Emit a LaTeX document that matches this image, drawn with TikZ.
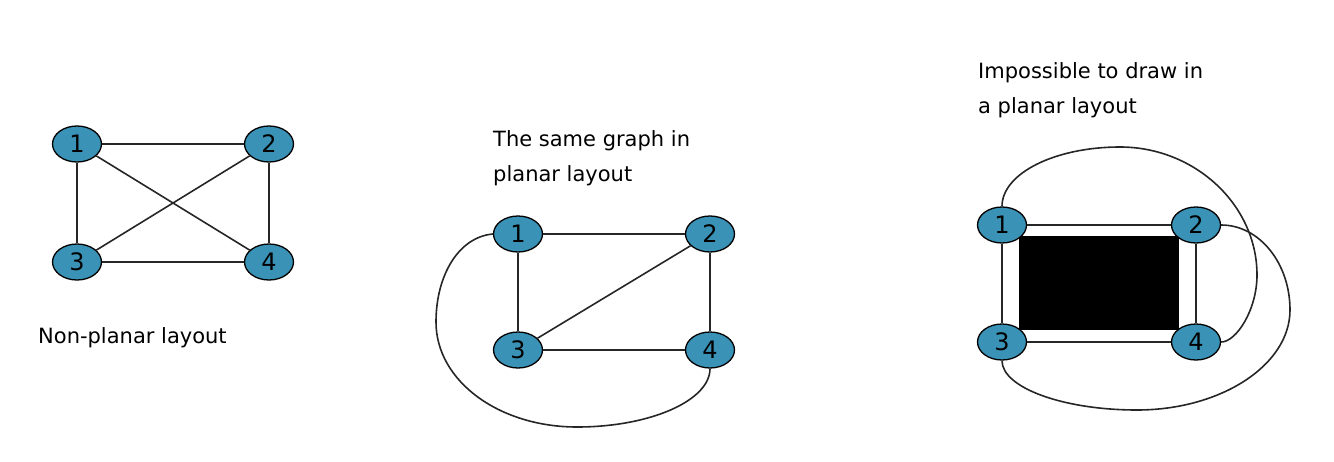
\documentclass[tikz,border=0pt]{standalone}
\usepackage{fontspec}
\setmainfont{DejaVu Sans}
\usetikzlibrary{shapes.geometric}
\definecolor{nodeblue}{RGB}{58,147,183}
\begin{document}
\begin{tikzpicture}[x=1pt,y=-1pt,
  vtx/.style={ellipse,draw=black,line width=1.3pt,fill=nodeblue,minimum width=49pt,minimum height=36pt,inner sep=0pt,font=\fontsize{24}{24}\selectfont},
  edge/.style={draw=black!85,line width=1.6pt},
  lbl/.style={anchor=base west,inner sep=0pt,font=\fontsize{21}{35}\selectfont,align=left}]
\useasboundingbox (0,0) rectangle (1334,461);
% graph 1
\node[vtx] (a1) at (77,144) {1};
\node[vtx] (a2) at (269,144) {2};
\node[vtx] (a3) at (77,262) {3};
\node[vtx] (a4) at (269,262) {4};
\draw[edge] (a1) -- (a2);
\draw[edge] (a1) -- (a3);
\draw[edge] (a2) -- (a4);
\draw[edge] (a3) -- (a4);
\draw[edge] (a1) -- (a4);
\draw[edge] (a2) -- (a3);
\node[lbl] (t1) at (38,343) {Non-planar layout};
% graph 2
\node[vtx] (b1) at (518,234) {1};
\node[vtx] (b2) at (710,234) {2};
\node[vtx] (b3) at (518,350) {3};
\node[vtx] (b4) at (710,350) {4};
\draw[edge] (b1) -- (b2);
\draw[edge] (b1) -- (b3);
\draw[edge] (b2) -- (b4);
\draw[edge] (b3) -- (b4);
\draw[edge] (b2) -- (b3);
\draw[edge] (b1.west) .. controls +(-34,3) and +(0,-47) .. (436,322) .. controls +(0,59) and +(-78,0) .. (577,427) .. controls +(73,0) and +(0,32) .. (b4.south);
\node[lbl] (t2) at (493,181) {The same graph in\\planar layout};
% graph 3
\fill[black] (1019,236) rectangle (1179,330);
\node[vtx] (c1) at (1002,225) {1};
\node[vtx] (c2) at (1196,225) {2};
\node[vtx] (c3) at (1002,342) {3};
\node[vtx] (c4) at (1196,342) {4};
\draw[edge] (c1) -- (c2);
\draw[edge] (c1) -- (c3);
\draw[edge] (c2) -- (c4);
\draw[edge] (c3) -- (c4);
\draw[edge] (c1.north) .. controls +(0,-33) and +(-65,0) .. (1120,147) .. controls +(75,0) and +(0,-70) .. (1257,275) .. controls +(0,35) and +(15,0) .. (c4.east);
\draw[edge] (c2.east) .. controls +(38,0) and +(0,-47) .. (1290,310) .. controls +(0,55) and +(84,0) .. (1137,410) .. controls +(-74,0) and +(0,27) .. (c3.south);
\node[lbl] (t3) at (978,113) {Impossible to draw in\\a planar layout};
\end{tikzpicture}
\end{document}
